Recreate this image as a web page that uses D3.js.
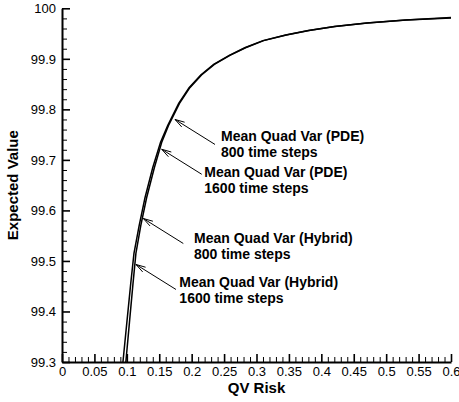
<!DOCTYPE html>
<html><head><meta charset="utf-8">
<script src="https://cdn.jsdelivr.net/npm/d3@7"></script>
<style>
html,body{margin:0;padding:0;background:#fff;}
svg text{font-family:"Liberation Sans",Arial,Helvetica,sans-serif;}
</style></head>
<body><svg id="c" width="459" height="402"></svg>
<script>
// ---- data ----
const xTicks = [0,0.05,0.1,0.15,0.2,0.25,0.3,0.35,0.4,0.45,0.5,0.55,0.6];
const yTicks = [99.3,99.4,99.5,99.6,99.7,99.8,99.9,100];

// curve 1 (left line): QV risk, expected value
const riskA = [0.094,0.1,0.106,0.111,0.119,0.128,0.14,0.152,0.163,0.18,0.196,0.214,0.234,0.258,0.282,0.31,0.345,0.38,0.42,0.47,0.53,0.6];
const valA  = [99.30,99.378,99.455,99.515,99.57,99.625,99.685,99.735,99.768,99.812,99.843,99.868,99.889,99.907,99.922,99.936,99.947,99.956,99.964,99.971,99.977,99.982];
// curve 2 (right line)
const riskB = [0.0985,0.104,0.1095,0.114,0.1215,0.1305,0.1425,0.1538,0.1643,0.1812,0.1972,0.2152,0.235,0.259,0.283,0.311,0.346,0.381,0.421,0.471,0.531,0.6];
const valB  = [99.30,99.378,99.455,99.515,99.57,99.625,99.685,99.735,99.768,99.812,99.843,99.868,99.889,99.907,99.922,99.936,99.947,99.956,99.964,99.971,99.977,99.981];

// annotations
const annLine1 = ["Mean Quad Var (PDE)","Mean Quad Var (PDE)","Mean Quad Var (Hybrid)","Mean Quad Var (Hybrid)"];
const annLine2 = ["800 time steps","1600 time steps","800 time steps","1600 time steps"];
const annTipX  = [0.1743,0.1538,0.1254,0.1141];
const annTipY  = [99.780,99.721,99.584,99.493];
const annTextX = [0.2453,0.2195,0.2036,0.181];
const annTextY = [99.738,99.666,99.536,99.449];

// ---- chart ----
const svg = d3.select("#c");
const m = {l:62, t:8.3, r:8, b:40};
const W = 451 - m.l, H = 362 - m.t;
const g = svg.append("g").attr("transform",`translate(${m.l},${m.t})`);
const x = d3.scaleLinear().domain([0,0.6]).range([0,W]);
const y = d3.scaleLinear().domain([99.3,100]).range([H,0]);

const fmt = d => String(+d.toFixed(2));
const xMinor = d3.range(0,61).map(i=>i/100).filter(v=>!xTicks.some(t=>Math.abs(t-v)<1e-9));
const yMinor = d3.range(0,36).map(i=>99.3+i*0.02).filter(v=>!yTicks.some(t=>Math.abs(t-v)<1e-9));

// minor ticks
g.append("g").attr("transform",`translate(0,${H})`)
  .call(d3.axisBottom(x).tickValues(xMinor).tickSize(-5).tickSizeOuter(0).tickFormat(""))
  .call(s=>s.select(".domain").remove())
  .selectAll("line").attr("stroke","#000").attr("stroke-width",1);
g.append("g")
  .call(d3.axisLeft(y).tickValues(yMinor).tickSize(-5).tickSizeOuter(0).tickFormat(""))
  .call(s=>s.select(".domain").remove())
  .selectAll("line").attr("stroke","#000").attr("stroke-width",1);

// major axes
const xa = g.append("g").attr("transform",`translate(0,${H})`)
  .call(d3.axisBottom(x).tickValues(xTicks).tickSize(-8).tickSizeOuter(0).tickPadding(6).tickFormat(fmt));
const ya = g.append("g")
  .call(d3.axisLeft(y).tickValues(yTicks).tickSize(-8).tickSizeOuter(0).tickPadding(6).tickFormat(fmt));
[xa,ya].forEach(a=>{
  a.select(".domain").attr("stroke","#000").attr("stroke-width",2);
  a.selectAll(".tick line").attr("stroke","#000").attr("stroke-width",1.6);
  a.selectAll("text").attr("fill","#000").style("font-size","13px").attr("font-family",null);
});
xa.selectAll("text").attr("dy","0.71em").attr("y",5);

// axis titles
svg.append("text").attr("x",m.l+W/2).attr("y",393).attr("text-anchor","middle")
  .style("font-size","15px").style("font-weight","bold").text("QV Risk");
svg.append("text").attr("transform",`translate(18,${m.t+H/2}) rotate(-90)`).attr("text-anchor","middle")
  .style("font-size","15px").style("font-weight","bold").text("Expected Value");

// curves
const line = d3.line().x(d=>x(d[0])).y(d=>y(d[1]));
[[riskA,valA],[riskB,valB]].forEach(([rx,vy])=>{
  g.append("path").datum(rx.map((r,i)=>[r,vy[i]]))
    .attr("d",line).attr("fill","none").attr("stroke","#000").attr("stroke-width",1.5);
});

// annotations
annLine1.forEach((t,i)=>{
  const tx = x(annTipX[i]), ty = y(annTipY[i]);
  const ex = tx+40, ey = ty+25;
  g.append("line").attr("x1",ex).attr("y1",ey).attr("x2",tx).attr("y2",ty).attr("stroke","#000").attr("stroke-width",1);
  const ang = Math.atan2(ey-ty, ex-tx), L=10, a=0.28;
  const p = d3.path();
  p.moveTo(tx+L*Math.cos(ang-a), ty+L*Math.sin(ang-a)); p.lineTo(tx,ty);
  p.lineTo(tx+L*Math.cos(ang+a), ty+L*Math.sin(ang+a));
  g.append("path").attr("d",p.toString()).attr("fill","none").attr("stroke","#000").attr("stroke-width",1);
  const lx = x(annTextX[i]), ly = y(annTextY[i]);
  const tt = g.append("text").attr("x",lx).attr("y",ly).style("font-size","14px").style("font-weight","bold");
  tt.append("tspan").attr("x",lx).text(t);
  tt.append("tspan").attr("x",lx).attr("dy",16).text(annLine2[i]);
});
</script></body></html>
